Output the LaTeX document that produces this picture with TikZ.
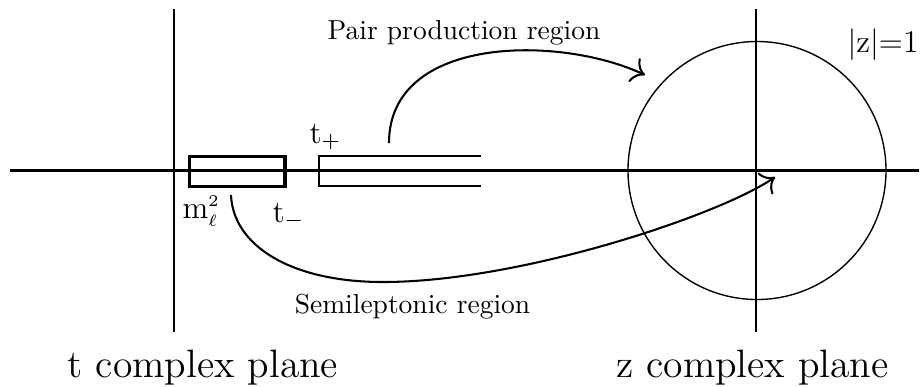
\documentclass[tikz,border=0pt]{standalone}
\usetikzlibrary{arrows.meta}
\begin{document}
\begin{tikzpicture}[x=0.3636pt,y=-0.3636pt,
  axis/.style={line width=0.75pt},
  cutbox/.style={line width=1.1pt},
  cutline/.style={line width=0.6pt},
  unitcircle/.style={line width=0.5pt},
  maparrow/.style={line width=0.75pt,-{To[scale=1.4]}},
  region/.style={font=\fontsize{10}{12}\selectfont,inner sep=0pt,anchor=base},
  plane/.style={font=\fontsize{14.4}{17}\selectfont,inner sep=0pt,anchor=base},
  pointlbl/.style={font=\fontsize{11.5}{14}\selectfont,inner sep=0pt,anchor=base west}]
\useasboundingbox (0,0) rectangle (923,386);
% axes
\coordinate (hl) at (10,170.5);
\coordinate (hr) at (919,170.5);
\coordinate (tt) at (173.7,9);
\coordinate (tb) at (173.7,332);
\coordinate (zt) at (756,9);
\coordinate (zb) at (756,332);
\draw[axis] (hl) -- (hr);
\draw[axis] (tt) -- (tb);
\draw[axis] (zt) -- (zb);
% unit circle
\coordinate (zc) at (757,170.5);
\draw[unitcircle] (zc) circle[radius=129];
% cuts
\draw[cutbox] (189.3,156) rectangle (285,186);
\coordinate (c1) at (480.5,156);
\coordinate (c2) at (319,156);
\coordinate (c3) at (319,186);
\coordinate (c4) at (480.5,186);
\draw[cutline] (c1) -- (c2) -- (c3) -- (c4);
% labels
\node[region] (pp) at (464,39) {Pair production region};
\node[region] (sl) at (412.5,313) {Semileptonic region};
\node[plane] (tp) at (203,377) {t complex plane};
\node[plane] (zp) at (752.5,377) {z complex plane};
\node[pointlbl] (zl) at (847,52) {|z|=1};
\node[pointlbl] (tplus) at (309,143) {t$_+$};
\node[pointlbl] (tminus) at (272,222) {t$_-$};
\node[pointlbl] (ml) at (182,218) {m$^{\scriptscriptstyle 2}_{\scriptscriptstyle\ell}$};
% mapping arrows
\coordinate (pa) at (389,143);
\coordinate (pb) at (645,75);
\draw[maparrow] (pa) .. controls (389,35) and (560,35) .. (pb);
\coordinate (sa) at (231,195);
\coordinate (sm) at (383,282);
\coordinate (sb) at (775,177);
\draw[maparrow] (sa) .. controls (233,245) and (290,282) .. (sm)
  .. controls (520,282) and (720,215) .. (sb);
\end{tikzpicture}
\end{document}
